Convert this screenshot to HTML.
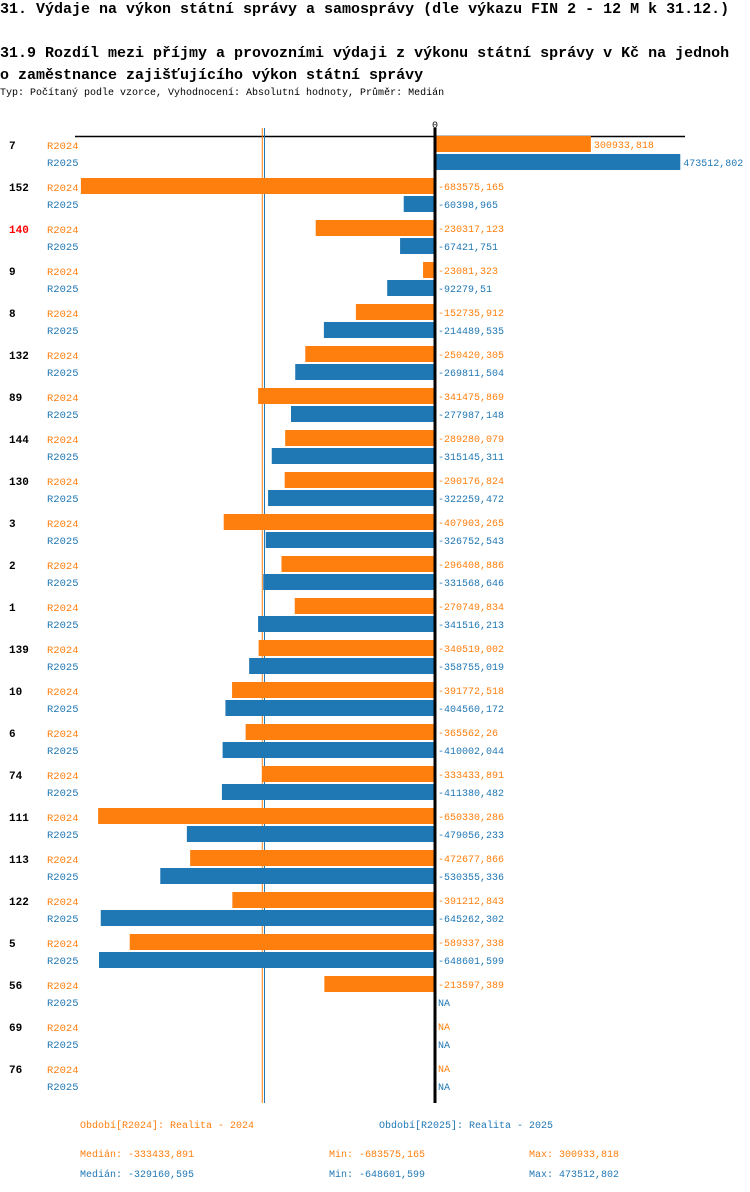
<!DOCTYPE html>
<html><head><meta charset="utf-8">
<style>
html,body{margin:0;padding:0;background:#fff;}
body{width:750px;height:1192px;overflow:hidden;position:relative;font-family:"Liberation Mono","DejaVu Sans Mono",monospace;}
.t{position:absolute;left:0;white-space:nowrap;}
</style></head><body>
<div class="t" style="top:1px;font-size:15px;font-weight:bold;">31. Výdaje na výkon státní správy a samosprávy (dle výkazu FIN 2 - 12 M k 31.12.)</div>
<div class="t" style="top:43px;font-size:15px;font-weight:bold;line-height:22px;">31.9 Rozdíl mezi příjmy a provozními výdaji z výkonu státní správy v Kč na jednoh<br>o zaměstnance zajišťujícího výkon státní správy</div>
<div class="t" style="top:88px;font-size:10px;">Typ: Počítaný podle vzorce, Vyhodnocení: Absolutní hodnoty, Průměr: Medián</div>
<svg id="chart" width="750" height="1192" style="position:absolute;left:0;top:0;font-family:'Liberation Mono','DejaVu Sans Mono',monospace;"></svg>
<script>
const categories=["7","152","140","9","8","132","89","144","130","3","2","1","139","10","6","74","111","113","122","5","56","69","76"];
const highlight=["140"];
const r2024=[300933.818,-683575.165,-230317.123,-23081.323,-152735.912,-250420.305,-341475.869,-289280.079,-290176.824,-407903.265,-296408.886,-270749.834,-340519.002,-391772.518,-365562.26,-333433.891,-650330.286,-472677.866,-391212.843,-589337.338,-213597.389,null,null];
const r2025=[473512.802,-60398.965,-67421.751,-92279.51,-214489.535,-269811.504,-277987.148,-315145.311,-322259.472,-326752.543,-331568.646,-341516.213,-358755.019,-404560.172,-410002.044,-411380.482,-479056.233,-530355.336,-645262.302,-648601.599,null,null,null];
const labels2024=["300933,818","-683575,165","-230317,123","-23081,323","-152735,912","-250420,305","-341475,869","-289280,079","-290176,824","-407903,265","-296408,886","-270749,834","-340519,002","-391772,518","-365562,26","-333433,891","-650330,286","-472677,866","-391212,843","-589337,338","-213597,389","NA","NA"];
const labels2025=["473512,802","-60398,965","-67421,751","-92279,51","-214489,535","-269811,504","-277987,148","-315145,311","-322259,472","-326752,543","-331568,646","-341516,213","-358755,019","-404560,172","-410002,044","-411380,482","-479056,233","-530355,336","-645262,302","-648601,599","NA","NA","NA"];
const median2024=-333433.891, median2025=-329160.595;
const stats2024=["Medián: -333433,891","Min: -683575,165","Max: 300933,818"];
const stats2025=["Medián: -329160,595","Min: -648601,599","Max: 473512,802"];

const OR="#ff7f0e", BL="#1f77b4";
const X0=435, K=0.000518;
const x=v=>X0+v*K;
const yG=i=>136+i*42;
const svg=document.getElementById('chart');
const NS="http://www.w3.org/2000/svg";
function mk(tag,attrs,text){const e=document.createElementNS(NS,tag);for(const k in attrs)e.setAttribute(k,attrs[k]);if(text!==undefined)e.textContent=text;svg.appendChild(e);return e;}

let e;
e=mk('line',{x1:75,x2:685,y1:136.5,y2:136.5,stroke:'#000','stroke-width':1.5});


e=mk('text',{x:X0,y:128,'font-size':10,'text-anchor':'middle'},'0');



e=mk('line',{x1:x(median2024),x2:x(median2024),y1:128,y2:1103,stroke:OR,'stroke-width':1});


e=mk('line',{x1:x(median2025),x2:x(median2025),y1:128,y2:1103,stroke:BL,'stroke-width':1});



categories.forEach((c,i)=>{
  const y=yG(i);
  e=mk('text',{x:9,y:y+13,'font-size':11,'font-weight':'bold',fill:highlight.includes(c)?'#ff0000':'#000'},c);
  
  
  e=mk('text',{x:47,y:y+13,'font-size':10.5,fill:OR},'R2024');
  
  
  e=mk('text',{x:47,y:y+30,'font-size':10.5,fill:BL},'R2025');
  
  
  [[r2024[i],labels2024[i],OR,y,'r2024'],[r2025[i],labels2025[i],BL,y+18,'r2025']].forEach(([v,l,col,yy,s])=>{
    if(v!==null){
      const a=Math.min(x(v),X0),b=Math.max(x(v),X0);
      e=mk('rect',{x:a,y:yy,width:b-a,height:16,fill:col});
      
      
    }
    const tx=(v!==null&&v>0)?x(v)+3:X0+3;
    e=mk('text',{x:tx,y:yy+12,'font-size':10,fill:col},l);
    
    
  });
});
e=mk('line',{x1:X0,x2:X0,y1:128,y2:1103,stroke:'#000','stroke-width':3});



e=mk('text',{x:80,y:1128,'font-size':10,fill:OR},'Období[R2024]: Realita - 2024');


e=mk('text',{x:379,y:1128,'font-size':10,fill:BL},'Období[R2025]: Realita - 2025');


const sx=[80,329,529];
stats2024.forEach((s,j)=>{e=mk('text',{x:sx[j],y:1157,'font-size':10,fill:OR},s);
 
 });
stats2025.forEach((s,j)=>{e=mk('text',{x:sx[j],y:1177,'font-size':10,fill:BL},s);
 
 });
</script>
</body></html>
